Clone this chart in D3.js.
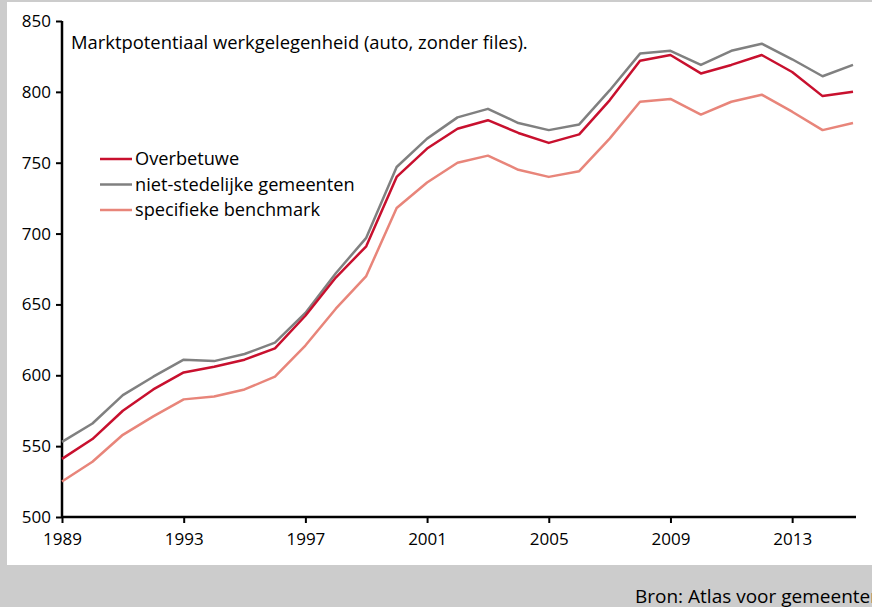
<!DOCTYPE html>
<html>
<head>
<meta charset="utf-8">
<script src="https://cdn.jsdelivr.net/npm/d3@7"></script>
<style>
  body { margin: 0; background: #cccccc; }
  svg { display: block; font-family: "Open Sans", "Noto Sans", sans-serif; }
</style>
</head>
<body>
<script>
const years = d3.range(1989, 2016);
const overbetuwe = [541, 555, 575, 590, 602, 606, 611, 619, 642, 669, 691, 740, 760, 774, 780, 771, 764, 770, 794, 822, 826, 813, 819, 826, 814, 797, 800];
const nietStedelijk = [553, 566, 586, 599, 611, 610, 615, 623, 644, 672, 697, 747, 767, 782, 788, 778, 773, 777, 801, 827, 829, 819, 829, 834, 823, 811, 819];
const benchmark = [525, 539, 558, 571, 583, 585, 590, 599, 621, 647, 670, 718, 736, 750, 755, 745, 740, 744, 767, 793, 795, 784, 793, 798, 786, 773, 778];
const seriesNames = ['Overbetuwe', 'niet-stedelijke gemeenten', 'specifieke benchmark'];
const seriesColors = ['#c8102e', '#808080', '#e8857a'];
const yTicks = [500, 550, 600, 650, 700, 750, 800, 850];
const xTicks = [1989, 1993, 1997, 2001, 2005, 2009, 2013];

const width = 872, height = 607;
const svg = d3.select('body').append('svg')
  .attr('width', width)
  .attr('height', height);

// white panel
svg.append('rect')
  .attr('x', 7).attr('y', 2)
  .attr('width', width - 7).attr('height', 563)
  .attr('fill', '#fff');

const x = d3.scaleLinear().domain([1989, 2015]).range([62, 853]);
const y = d3.scaleLinear().domain([500, 850]).range([517, 21]);

const yAxis = svg.append('g')
  .attr('transform', 'translate(62,0)')
  .call(d3.axisLeft(y).tickValues(yTicks).tickSize(6).tickPadding(5));
const xAxis = svg.append('g')
  .attr('transform', 'translate(0,517)')
  .call(d3.axisBottom(x).tickValues(xTicks).tickFormat(d3.format('d')).tickSize(6).tickPadding(10));

[yAxis, xAxis].forEach(g => {
  g.select('.domain').attr('stroke', '#000').attr('stroke-width', 2.5);
  g.selectAll('.tick line').attr('stroke', '#000').attr('stroke-width', 2);
  g.selectAll('.tick text').attr('fill', '#000').style('font-size', '17px').style('font-family', '"Open Sans", sans-serif');
});
xAxis.select('.domain').attr('d', 'M62,0H856');
yAxis.select('.domain').attr('d', 'M0,' + y(850) + 'V' + y(500));

const line = d3.line()
  .x((d, i) => x(years[i]))
  .y(d => y(d));

const allSeries = [overbetuwe, nietStedelijk, benchmark];
// benchmark first, then gray, red on top
[2, 1, 0].forEach(i => {
  svg.append('path')
    .datum(allSeries[i])
    .attr('fill', 'none')
    .attr('stroke', seriesColors[i])
    .attr('stroke-width', 2.5)
    .attr('stroke-linejoin', 'round')
    .attr('d', line);
});

svg.append('text')
  .attr('x', 71).attr('y', 49)
  .style('font-size', '18.4px')
  .text('Marktpotentiaal werkgelegenheid (auto, zonder files).');

const legend = svg.append('g');
seriesNames.forEach((name, i) => {
  const ly = 159 + i * 25.5;
  legend.append('line')
    .attr('x1', 100).attr('x2', 132)
    .attr('y1', ly).attr('y2', ly)
    .attr('stroke', seriesColors[i])
    .attr('stroke-width', 2.5);
  legend.append('text')
    .attr('x', 135).attr('y', ly + 6)
    .style('font-size', '18.2px')
    .text(name);
});

svg.append('text')
  .attr('x', 635).attr('y', 603)
  .style('font-size', '19px')
  .text('Bron: Atlas voor gemeenten');
</script>
</body>
</html>
